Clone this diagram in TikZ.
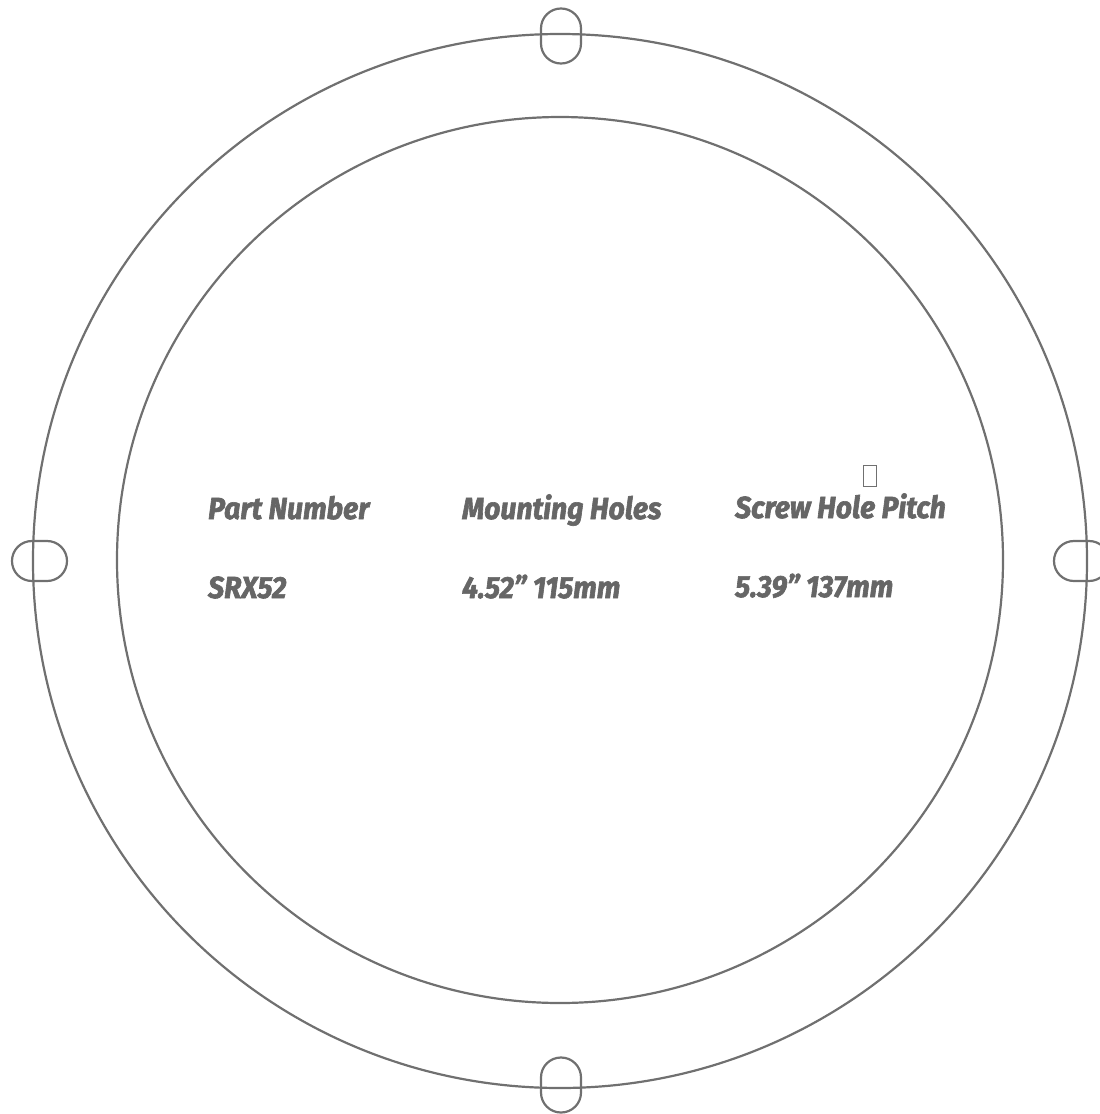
\documentclass[tikz,border=0pt]{standalone}
\usepackage{fontspec}
\newfontfamily\lbl{Fira Sans}[UprightFont={* Bold Italic},FakeStretch=0.93,FakeBold=2]
\definecolor{ln}{HTML}{707070}
\definecolor{tx}{HTML}{666666}
\tikzset{
  ring/.style={draw=ln,line width=2.2pt},
  slotv/.style={draw=ln,line width=2.2pt,rounded corners=19.9pt,minimum width=40pt,minimum height=55pt,inner sep=0pt},
  sloth/.style={draw=ln,line width=2.2pt,rounded corners=19.9pt,minimum width=55pt,minimum height=40pt,inner sep=0pt},
  lab/.style={anchor=base west,inner sep=0pt,text=tx,font=\lbl\fontsize{30.5}{36}\selectfont},
  mark box/.style={draw=ln,line width=1.6pt,inner sep=0pt,minimum width=13pt,minimum height=21pt}
}
\begin{document}
\begin{tikzpicture}[x=1pt,y=-1pt]
\useasboundingbox (0,0) rectangle (1100,1114);
\coordinate (oc) at (560,561);
\coordinate (ic) at (560,560);
\draw[ring] (oc) circle[radius=527];
\draw[ring] (ic) circle[radius=443];
\node[slotv] (stop) at (561,36) {};
\node[slotv] (sbot) at (561,1085) {};
\node[sloth] (sleft) at (39.5,561) {};
\node[sloth] (sright) at (1081.5,561) {};
\node[lab] (pn) at (208,519) {Part Number};
\node[lab] (pnv) at (208,598) {SRX52};
\node[lab] (mh) at (462,519) {Mounting Holes};
\node[lab] (mhv) at (462,598) {4.52” 115mm};
\node[lab] (sp) at (735,518) {Screw Hole Pitch};
\node[lab] (spv) at (735,597) {5.39” 137mm};
\node[mark box] (mk) at (870,476) {};
\end{tikzpicture}
\end{document}
